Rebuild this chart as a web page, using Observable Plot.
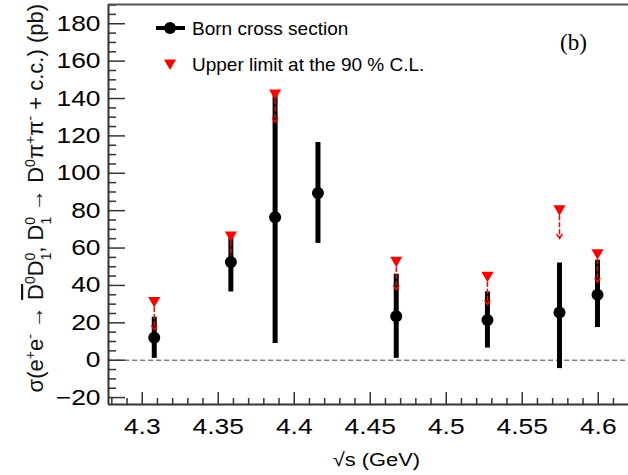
<!DOCTYPE html>
<html><head><meta charset="utf-8">
<script src="https://cdn.jsdelivr.net/npm/d3@7"></script>
<script src="https://cdn.jsdelivr.net/npm/@observablehq/plot@0.6"></script>
<style>body{margin:0;background:#fff} svg{display:block}</style>
</head><body><div id="chart"></div>
<script>
// ---- data ----
const energies   = [4.3079, 4.3583, 4.3874, 4.4156, 4.4671, 4.5271, 4.5745, 4.5995];
const sigma      = [12, 52.5, 76.5, 89.5, 23.5, 21.5, 25.5, 35];
const errLow     = [1, 36.5, 9, 62.5, 1, 6.5, -4.5, 17.5];
const errHigh    = [23, 67.5, 144, 116.5, 46, 36.5, 52, 53.5];
const upperLimit = [32, 67, 143, null, 53.5, 45.5, 81, 57.5];
const arrowLength = 16;   // pb, length of the dashed upper-limit arrow

const xDomain = [4.2778, 4.6199];
const yDomain = [-23.7, 190.3];
const xMajorTicks = [4.3, 4.35, 4.4, 4.45, 4.5, 4.55, 4.6];
const xMinorTicks = d3.range(4.28, 4.62, 0.01).map(v => +v.toFixed(2)).filter(v => !xMajorTicks.includes(v));
const yMajorTicks = [-20, 0, 20, 40, 60, 80, 100, 120, 140, 160, 180];
const yMinorTicks = d3.range(-20, 191, 5).filter(v => !yMajorTicks.includes(v));

const points = energies.map((e, i) => ({e, s: sigma[i], lo: errLow[i], hi: errHigh[i], ul: upperLimit[i]}));
const ulPoints = points.filter(d => d.ul != null);

const axisColor = "#333";
const font = "'Liberation Sans', Arial, Helvetica, sans-serif";

const chart = Plot.plot({
  width: 628, height: 475,
  marginLeft: 108, marginRight: 0, marginTop: 4, marginBottom: 71,
  x: {domain: xDomain},
  y: {domain: yDomain},
  style: {fontFamily: font, background: "#fff", color: "#000"},
  marks: [
    Plot.ruleY([0], {stroke: "#444", strokeWidth: 1, strokeDasharray: "5,3"}),
    // axes: inward ticks
    Plot.axisY(yMajorTicks, {tickSize: -17, text: null, stroke: axisColor, strokeWidth: 1.5, label: null}),
    Plot.axisY(yMinorTicks, {tickSize: -8, text: null, stroke: axisColor, strokeWidth: 1.5, label: null}),
    Plot.axisY(yMajorTicks, {tickSize: 0, tickPadding: 8, fontSize: 22, fill: "#000", label: null, tickFormat: d => d < 0 ? "\u2212" + (-d) : String(d)}),
    Plot.axisX(xMajorTicks, {tickSize: -12, text: null, stroke: axisColor, strokeWidth: 1.5, label: null}),
    Plot.axisX(xMinorTicks, {tickSize: -6, text: null, stroke: axisColor, strokeWidth: 1.5, label: null}),
    Plot.axisX(xMajorTicks, {tickSize: 0, tickPadding: 14, fontSize: 22, fill: "#000", label: null, tickFormat: d => String(d)}),
    // frame
    Plot.ruleX([xDomain[0]], {stroke: axisColor, strokeWidth: 2}),
    Plot.ruleY([yDomain[0]], {stroke: axisColor, strokeWidth: 2}),
    Plot.ruleY([yDomain[1]], {stroke: "#555", strokeWidth: 2}),
    // data
    Plot.ruleX(points, {x: "e", y1: "lo", y2: "hi", stroke: "#000", strokeWidth: 5}),
    Plot.arrow(ulPoints, {x: "e", y1: "ul", y2: d => d.ul - arrowLength, stroke: "#ff0000", strokeWidth: 1.5, strokeDasharray: "4,3", headLength: 5}),
    Plot.dot(points, {x: "e", y: "s", r: 6, fill: "#000"}),
    Plot.dot(ulPoints, {x: "e", y: "ul", symbol: "triangle", rotate: 180, r: 4.5, fill: "#ff0000"})
  ]
});
document.getElementById("chart").append(chart);

const svg = d3.select(chart);

// ROOT-style wide glyphs for the tick labels: stretch horizontally around each anchor
function stretch(sel, s) {
  sel.each(function() {
    const el = d3.select(this);
    const x = +el.attr("x") || 0, y = +el.attr("y") || 0;
    const T = el.attr("transform") || "";
    el.attr("transform", `${T} translate(${x},${y}) scale(${s},1) translate(${-x},${-y})`);
  });
}
stretch(svg.selectAll('g[aria-label="y-axis tick label"] text'), 1.2);
stretch(svg.selectAll('g[aria-label="x-axis tick label"] text'), 1.2);

// legend
const lg = svg.append("g").attr("text-anchor", "start").style("font-family", font).style("font-size", "19px");
lg.append("line").attr("x1", 156).attr("x2", 185).attr("y1", 28).attr("y2", 28).attr("stroke", "#000").attr("stroke-width", 4);
lg.append("circle").attr("cx", 170).attr("cy", 28).attr("r", 6).attr("fill", "#000");
lg.append("text").attr("x", 192).attr("y", 35).text("Born cross section");
lg.append("path").attr("d", d3.symbol(d3.symbolTriangle, 62)()).attr("transform", "translate(170,63) rotate(180)").attr("fill", "#ff0000");
lg.append("text").attr("x", 192).attr("y", 71).text("Upper limit at the 90 % C.L.");

// panel label
svg.append("text").attr("x", 560).attr("y", 50).attr("text-anchor", "start")
  .style("font-family", "'Liberation Serif', 'Times New Roman', serif").style("font-size", "23px").text("(b)");

// x axis title
const xt = svg.append("text").attr("x", 420).attr("y", 466).attr("text-anchor", "end")
  .style("font-family", font).style("font-size", "19px").text("√s (GeV)");
stretch(xt, 1.15);

// y axis title
const yt = svg.append("text").attr("transform", "translate(43,4) rotate(-90)").attr("text-anchor", "end")
  .style("font-family", font).style("font-size", "22px").attr("fill", "#111");
function add(txt, kind, back) {
  const t = yt.append("tspan").text(txt);
  if (kind === "sup") t.attr("baseline-shift", "super").style("font-size", "14px");
  if (kind === "sub") t.attr("baseline-shift", "sub").style("font-size", "14px");
  if (kind === "over") t.style("text-decoration", "overline");
  if (back) t.attr("dx", -back);
  return t;
}
add("σ(e"); add("+", "sup"); add("e"); add("-", "sup"); add(" → ");
add("D", "over"); add("0", "sup"); add("D");
add("1", "sub"); add("0", "sup", 8);
add(", D"); add("1", "sub"); add("0", "sup", 8);
add(" → D"); add("0", "sup"); add("π"); add("+", "sup"); add("π"); add("-", "sup");
add(" + c.c.) (pb)");
</script>
</body></html>
